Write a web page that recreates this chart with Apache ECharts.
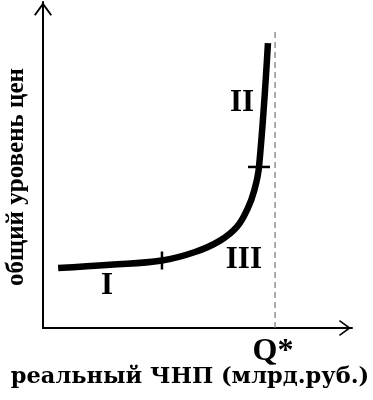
<!DOCTYPE html>
<html>
<head>
<meta charset="utf-8">
<script src="https://cdn.jsdelivr.net/npm/echarts@6/dist/echarts.min.js"></script>
<style>
html,body{margin:0;padding:0;background:#fff;}
#chart{width:373px;height:400px;}
</style>
</head>
<body>
<div id="chart"></div>
<script>
// Aggregate supply curve (arbitrary units 0..100)
const supplyX = [4.9, 21.7, 38.5, 49.2, 57.3, 62.8, 66.3, 68.3, 69.9, 72.8];
const supplyY = [18.4, 19.4, 20.7, 23.3, 26.8, 31.1, 36.8, 42.0, 49.4, 87.4];
// Boundary marks between the segments
const boundaryX = [38.5, 69.9];
const boundaryY = [20.7, 49.4];
// Potential output Q*
const qStar = 75.1;
const qStarTop = 90.8;
// Segment labels and their anchor points
const regionNames = ['I', 'II', 'III'];
const regionX = [20.7, 64.4, 65.0];
const regionY = [12.9, 69.0, 20.9];
const xTitle = 'реальный ЧНП (млрд.руб.)';
const yTitle = 'общий уровень цен';
const qLabel = 'Q*';

const chart = echarts.init(document.getElementById('chart'), null, {renderer: 'canvas'});
const chevron = 'path://M9,0 L18,12.6 L16.5,13.6 L9,3.2 L1.5,13.6 L0,12.6 Z';
const serifBold = {fontFamily: 'Liberation Serif', fontWeight: 'bold', color: '#000', opacity: 1};

chart.setOption({
  backgroundColor: '#fff',
  animation: false,
  grid: {left: 43, right: 21, top: 2, bottom: 72},
  xAxis: {
    type: 'value', min: 0, max: 100,
    axisLine: {show: true, lineStyle: {color: '#000', width: 2}, symbol: ['none', chevron], symbolSize: [16, 15], symbolOffset: [0, -7]},
    axisTick: {show: false}, axisLabel: {show: false}, splitLine: {show: false}
  },
  yAxis: {
    type: 'value', min: 0, max: 100,
    axisLine: {show: true, lineStyle: {color: '#000', width: 2}, symbol: ['none', chevron], symbolSize: [18, 14], symbolOffset: [0, -7]},
    axisTick: {show: false}, axisLabel: {show: false}, splitLine: {show: false}
  },
  series: [
    {
      type: 'line',
      data: [[qStar, 0], [qStar, qStarTop]],
      symbol: 'none',
      lineStyle: {color: '#777', width: 1.2, type: [6, 4]},
      z: 1
    },
    {
      type: 'line',
      data: supplyX.map((x, i) => [x, supplyY[i]]),
      smooth: 0.4,
      symbol: 'none',
      lineStyle: {color: '#000', width: 6.5, cap: 'butt', join: 'round'},
      z: 3
    },
    {
      type: 'scatter',
      data: [[boundaryX[0], boundaryY[0]]],
      symbol: 'rect', symbolSize: [2.5, 18],
      itemStyle: {color: '#000', opacity: 1}, z: 4
    },
    {
      type: 'scatter',
      data: [[boundaryX[1], boundaryY[1]]],
      symbol: 'rect', symbolSize: [22, 2.5],
      itemStyle: {color: '#000', opacity: 1}, z: 4
    },
    {
      type: 'scatter',
      data: regionNames.map((n, i) => ({name: n, value: [regionX[i], regionY[i]]})),
      symbolSize: 0,
      itemStyle: {opacity: 1},
      label: Object.assign({show: true, position: 'inside', formatter: '{b}', fontSize: 31}, serifBold),
      z: 5
    },
    {
      type: 'scatter',
      data: [{name: qLabel, value: [qStar, 0]}],
      symbolSize: 0,
      itemStyle: {opacity: 1},
      label: Object.assign({show: true, position: 'inside', offset: [-2, 24], formatter: '{b}', fontSize: 32}, serifBold),
      z: 5
    }
  ],
  graphic: [
    {
      type: 'text', x: 17, y: 177, rotation: Math.PI / 2,
      style: {text: yTitle, x: 0, y: 0, align: 'center', verticalAlign: 'middle', textAlign: 'center', textVerticalAlign: 'middle', font: 'bold 25px "Liberation Serif"', fill: '#000'}
    },
    {
      type: 'text', x: 190, y: 377,
      style: {text: xTitle, x: 0, y: 0, align: 'center', verticalAlign: 'middle', textAlign: 'center', textVerticalAlign: 'middle', font: 'bold 22.5px "DejaVu Serif"', fill: '#000'}
    }
  ]
});
</script>
</body>
</html>
